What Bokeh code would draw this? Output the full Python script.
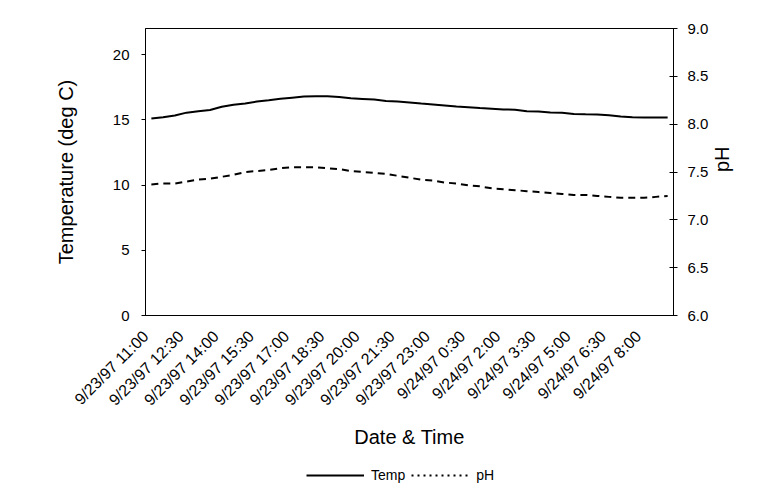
import math
from bokeh.plotting import figure
from bokeh.layouts import column
from bokeh.models import (Range1d, LinearAxis, FixedTicker, NumeralTickFormatter,
                          Legend, LegendItem, ColumnDataSource)
from bokeh.embed import file_html
from bokeh.resources import INLINE

times = ["9/23/97 11:00", "9/23/97 11:30", "9/23/97 12:00", "9/23/97 12:30",
         "9/23/97 13:00", "9/23/97 13:30", "9/23/97 14:00", "9/23/97 14:30",
         "9/23/97 15:00", "9/23/97 15:30", "9/23/97 16:00", "9/23/97 16:30",
         "9/23/97 17:00", "9/23/97 17:30", "9/23/97 18:00", "9/23/97 18:30",
         "9/23/97 19:00", "9/23/97 19:30", "9/23/97 20:00", "9/23/97 20:30",
         "9/23/97 21:00", "9/23/97 21:30", "9/23/97 22:00", "9/23/97 22:30",
         "9/23/97 23:00", "9/23/97 23:30", "9/24/97 0:00", "9/24/97 0:30",
         "9/24/97 1:00", "9/24/97 1:30", "9/24/97 2:00", "9/24/97 2:30",
         "9/24/97 3:00", "9/24/97 3:30", "9/24/97 4:00", "9/24/97 4:30",
         "9/24/97 5:00", "9/24/97 5:30", "9/24/97 6:00", "9/24/97 6:30",
         "9/24/97 7:00", "9/24/97 7:30", "9/24/97 8:00", "9/24/97 8:30",
         "9/24/97 9:00"]

temp = [15.10, 15.20, 15.33, 15.55, 15.65, 15.75, 16.00, 16.15, 16.25, 16.40,
        16.50, 16.62, 16.70, 16.78, 16.80, 16.80, 16.75, 16.65, 16.60, 16.55,
        16.45, 16.40, 16.33, 16.25, 16.18, 16.10, 16.02, 15.97, 15.90, 15.85,
        15.80, 15.78, 15.65, 15.63, 15.56, 15.55, 15.45, 15.42, 15.40, 15.35,
        15.25, 15.20, 15.18, 15.18, 15.18]

ph = [7.37, 7.38, 7.38, 7.40, 7.42, 7.43, 7.45, 7.47, 7.50, 7.51,
      7.52, 7.54, 7.55, 7.55, 7.55, 7.54, 7.53, 7.51, 7.50, 7.49,
      7.48, 7.46, 7.44, 7.42, 7.41, 7.39, 7.38, 7.36, 7.35, 7.33,
      7.32, 7.31, 7.30, 7.29, 7.28, 7.27, 7.26, 7.26, 7.25, 7.24,
      7.23, 7.23, 7.23, 7.24, 7.25]

series_names = ["Temp", "pH"]
label_step = 3
temp_ticks = [0, 5, 10, 15, 20]
ph_ticks = [6.0, 6.5, 7.0, 7.5, 8.0, 8.5, 9.0]
temp_range = (0, 22)
ph_range = (6.0, 9.0)

FONT = "Liberation Sans"
LABEL_SHIFT = 0.49  # rotated labels sit a little left of their category

idx = list(range(len(times)))
src = ColumnDataSource(dict(i=idx, temp=temp, ph=ph, t=times))

p = figure(width=748, height=457, output_backend="svg", toolbar_location=None,
           x_range=Range1d(-0.5, len(times) - 0.5),
           y_range=Range1d(*temp_range),
           min_border_left=145, min_border_right=75,
           min_border_top=28, min_border_bottom=142,
           x_axis_location=None, y_axis_location=None)
p.extra_y_ranges = {"ph": Range1d(*ph_range)}
p.grid.visible = False
p.outline_line_color = "black"
p.outline_line_width = 1
p.background_fill_color = "white"
p.border_fill_color = "white"

# bottom axis
label_pos = [i - LABEL_SHIFT for i in idx[::label_step]]
xa = LinearAxis(ticker=FixedTicker(ticks=label_pos),
                major_label_overrides={pos: times[i] for pos, i in zip(label_pos, idx[::label_step])})
xa.major_label_orientation = math.pi / 4
xa.axis_label = "Date & Time"
p.add_layout(xa, "below")

ya = LinearAxis(ticker=FixedTicker(ticks=temp_ticks))
ya.axis_label = "Temperature (deg C)"
p.add_layout(ya, "left")

yr = LinearAxis(y_range_name="ph", ticker=FixedTicker(ticks=ph_ticks),
                formatter=NumeralTickFormatter(format="0.0"))
yr.axis_label = "pH"
p.add_layout(yr, "right")

for ax in (xa, ya, yr):
    ax.axis_line_color = "black"
    ax.axis_line_width = 1
    ax.major_tick_line_color = "black"
    ax.minor_tick_line_color = None
    ax.major_label_text_font = FONT
    ax.major_label_text_color = "black"
    ax.major_label_text_font_size = "15px"
    ax.axis_label_text_font = FONT
    ax.axis_label_text_font_style = "normal"
    ax.axis_label_text_color = "black"
    ax.axis_label_text_font_size = "20px"

xa.major_label_text_font_size = "16px"
xa.major_tick_in = 0
xa.major_tick_out = 0
xa.major_label_standoff = 18
xa.axis_label_standoff = 8

ya.major_tick_in = 0
ya.major_tick_out = 4
ya.major_label_standoff = 12
ya.axis_label_standoff = 33

yr.major_tick_in = 4
yr.major_tick_out = 4
yr.major_label_standoff = 10
yr.axis_label_standoff = 11
try:
    if "axis_label_orientation" in LinearAxis.properties():
        yr.axis_label_orientation = math.pi / 2
except Exception:
    pass

p.line("i", "temp", source=src, line_color="black", line_width=2)
p.line("i", "ph", source=src, y_range_name="ph", line_color="black",
       line_width=2, line_dash="7 5")

# legend strip below the chart
lg = figure(width=748, height=28, output_backend="svg", toolbar_location=None,
            x_range=Range1d(0, 1), y_range=Range1d(0, 1),
            min_border=0, x_axis_location=None, y_axis_location=None)
lg.grid.visible = False
lg.outline_line_color = None
lg.background_fill_color = "white"
lg.border_fill_color = "white"
blank = ColumnDataSource(dict(x=[float("nan")], y=[float("nan")]))
g_temp = lg.line("x", "y", source=blank, line_color="black", line_width=2)
g_ph = lg.line("x", "y", source=blank, line_color="black", line_width=2,
               line_dash="2 4")
legend = Legend(items=[LegendItem(label=series_names[0], renderers=[g_temp]),
                       LegendItem(label=series_names[1], renderers=[g_ph])],
                orientation="horizontal", location=(161, 2),
                glyph_width=58, glyph_height=14, label_standoff=7, spacing=6,
                padding=2, margin=0, border_line_color=None,
                background_fill_alpha=0,
                label_text_font=FONT, label_text_font_size="14px",
                label_text_color="black")
lg.add_layout(legend, "center")

layout = column(p, lg, spacing=0)
open("out.html", "w").write(file_html(layout, INLINE))
